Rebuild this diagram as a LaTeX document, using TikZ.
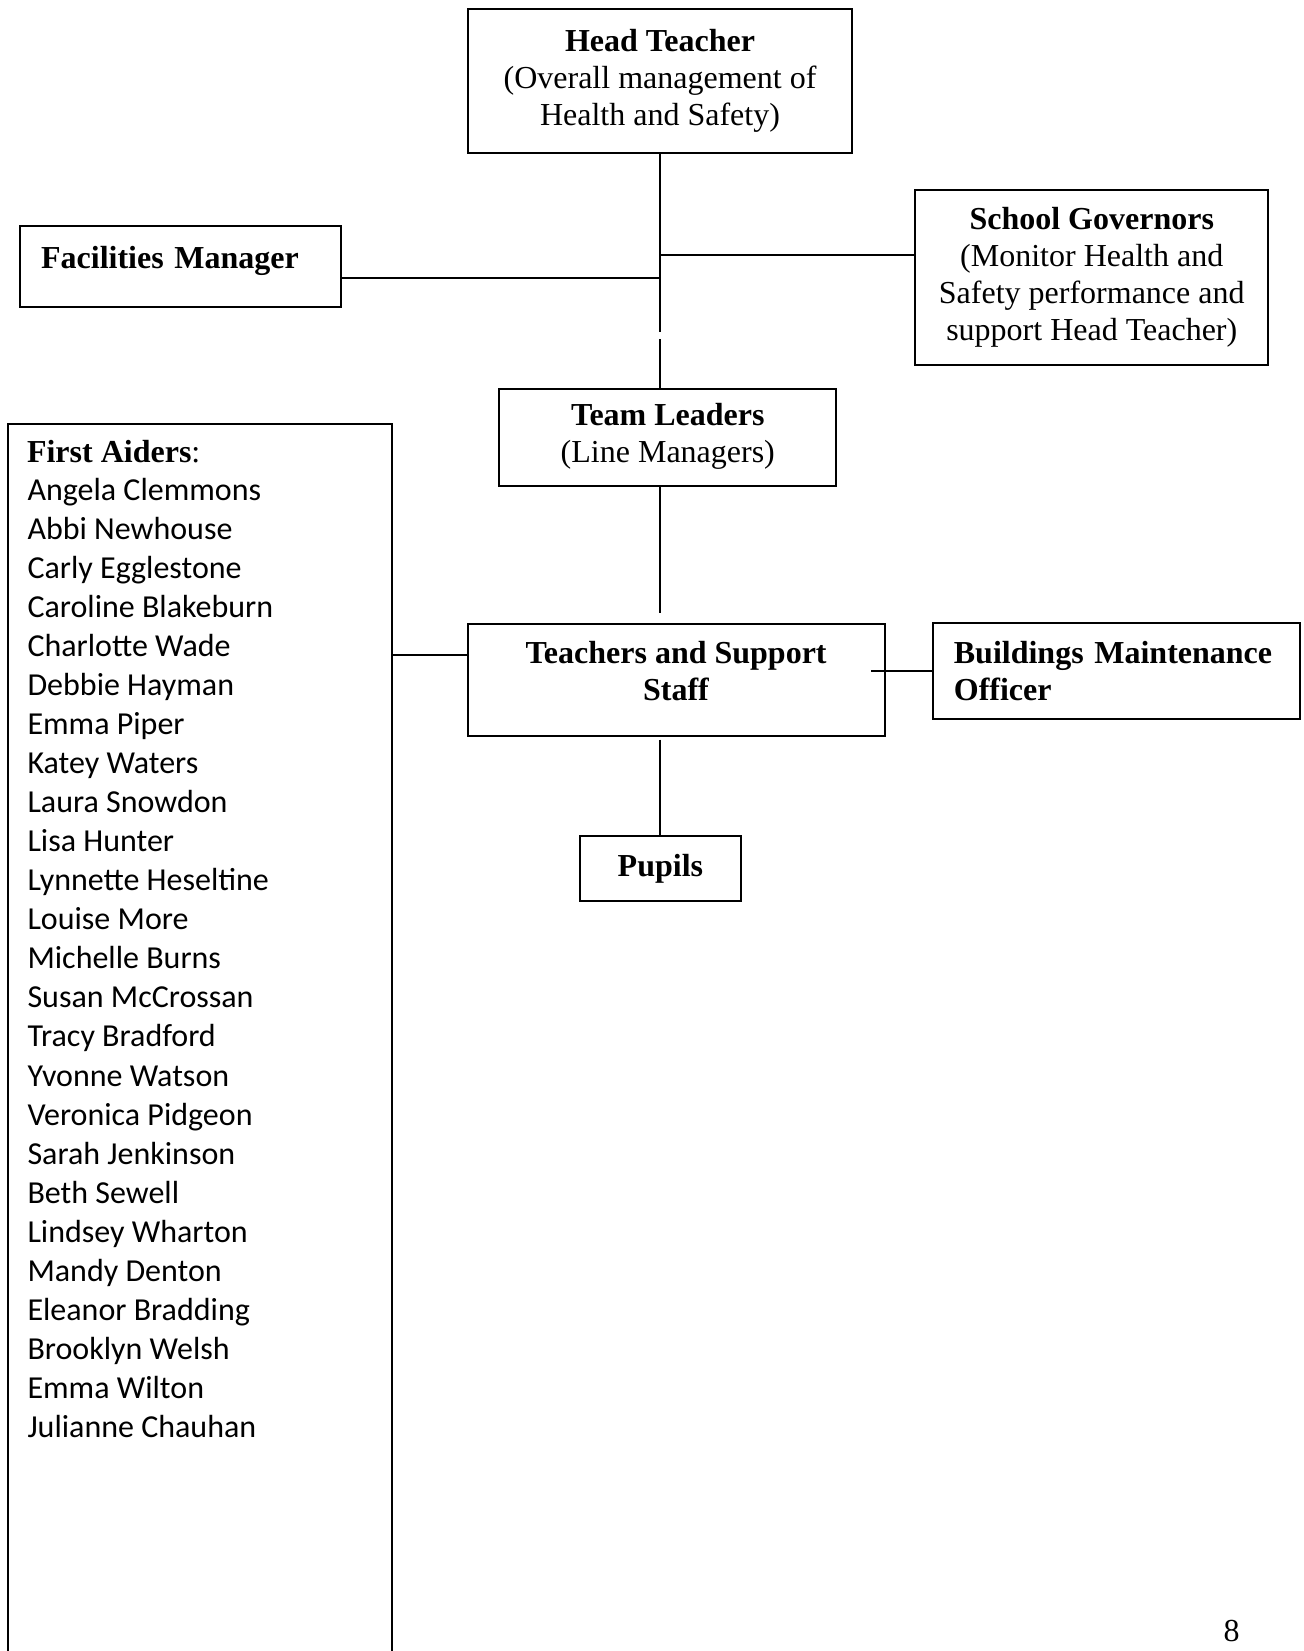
\documentclass[tikz,border=0pt]{standalone}
\usepackage{fontspec}
\setmainfont{Liberation Serif}
\newfontfamily\namefont{Carlito}
\usepackage{tikz}
\usetikzlibrary{calc}

\begin{document}
\begin{tikzpicture}[x=0.375pt, y=-0.375pt,
    box/.style={draw, line width=0.75pt, align=center, inner sep=0pt,
        font=\fontsize{12}{13.8}\selectfont},
    boxsize/.style 2 args={minimum width=#1*0.375pt, minimum height=#2*0.375pt},
    link/.style={line width=0.75pt},
    aider/.style={anchor=base west, inner sep=0pt,
        font=\namefont\fontsize{12}{14.65}\selectfont}]
    \useasboundingbox (0,0) rectangle (1304,1651);

    % 各个方框
    \node[box, boxsize={384.4}{144.3}] (head) at (660,81)
        {\textbf{Head Teacher}\\(Overall management of\\Health and Safety)};
    \node[box, boxsize={321.2}{81.1}, anchor=north west, align=left,
        inner xsep=7.9pt, text width=104.6pt, text depth=7.2pt] (fac) at (19,225.4)
        {\textbf{Facilities Manager}};
    \node[box, boxsize={352.9}{175.9}] (gov) at (1091.75,277.5)
        {\textbf{School Governors}\\(Monitor Health and\\Safety performance and\\support Head Teacher)};
    \node[box, boxsize={337}{96.9}, text depth=3.5pt] (team) at (667.8,437.2)
        {\textbf{Team Leaders}\\(Line Managers)};
    \node[box, boxsize={416.8}{112}, text depth=6.6pt] (tss) at (676.1,679.5)
        {\textbf{Teachers and Support}\\\textbf{Staff}};
    \node[box, boxsize={367.2}{96}, align=left, inner xsep=7.9pt,
        text width=121.9pt] (bmo) at (1116.4,671.3)
        {\textbf{Buildings Maintenance}\\\textbf{Officer}};
    \node[box, boxsize={161.2}{64.7}] (pup) at (660.4,868.4) {\textbf{Pupils}};
    \node[box, boxsize={383.4}{1400}, anchor=north west] (fabox) at (7.4,422.5) {};

    % 急救员名单
    \node[anchor=base west, inner sep=0pt, font=\fontsize{12}{13.8}\selectfont]
        (fahead) at (26.5,462.3) {\textbf{First Aiders}:};
    \foreach \nm [count=\i] in {Angela Clemmons, Abbi Newhouse, Carly Egglestone,
        Caroline Blakeburn, Charlotte Wade, Debbie Hayman, Emma Piper, Katey Waters,
        Laura Snowdon, Lisa Hunter, Lynnette Heseltine, Louise More, Michelle Burns,
        Susan McCrossan, Tracy Bradford, Yvonne Watson, Veronica Pidgeon,
        Sarah Jenkinson, Beth Sewell, Lindsey Wharton, Mandy Denton,
        Eleanor Bradding, Brooklyn Welsh, Emma Wilton, Julianne Chauhan}
        \node[aider] (fa\i) at (27,{460.93+39.07*\i}) {\nm};

    % 连线
    \coordinate (gapT) at (660,332);
    \coordinate (gapB) at (660,339);
    \draw[link] (head.south) -- (gapT);
    \draw[link] (gapB) -- (gapB |- team.north);
    \coordinate (govj) at ($(gov.west)+(0,-22.5)$);
    \draw[link] (govj) -- (govj -| head.south);
    \coordinate (facj) at ($(fac.east)+(0,10.7)$);
    \draw[link] (facj) -- (facj -| head.south);
    \coordinate (tssT) at ($(head.south |- tss.north)+(0,-9.5)$);
    \draw[link] (head.south |- team.south) -- (tssT);
    \draw[link] ($(pup.north |- tss.south)+(0,3)$) -- (pup.north);
    \draw[link] (bmo.west) -- ($(bmo.west -| tss.east)+(-15,0)$);
    \coordinate (faj) at ($(tss.west)+(0,-24.4)$);
    \draw[link] (faj) -- (faj -| fabox.east);

    \node[anchor=base, inner sep=0pt, font=\fontsize{12}{13.8}\selectfont]
        (pgnum) at (1231.7,1641) {8};
\end{tikzpicture}
\end{document}
